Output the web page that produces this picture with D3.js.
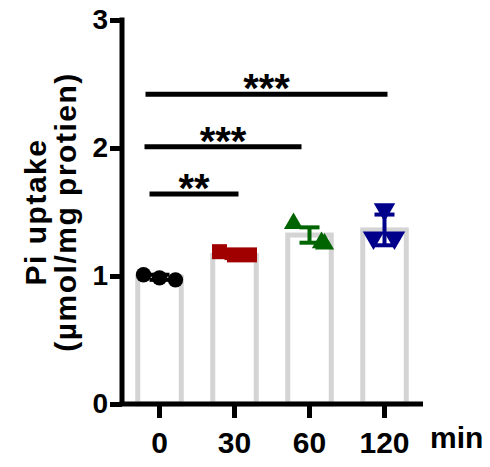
<!doctype html>
<html lang="en">
<head>
  <meta charset="utf-8">
  <title>Pi uptake</title>
  <style>
    body { margin: 0; background: #fff; }
    svg { display: block; font-family: "Liberation Sans", Arial, sans-serif; font-weight: bold; }
  </style>
</head>
<body>
  <div id="chart"></div>
  <script src="https://cdn.jsdelivr.net/npm/d3@7"></script>
  <script>
(function(){

  // data
  var categories = ["0", "30", "60", "120"];
  var means = [0.99, 1.16, 1.32, 1.36];
  var errs = [0.02, 0.02, 0.06, 0.12];
  var points0 = [1.01, 0.985, 0.97];
  var points30 = [1.19, 1.165, 1.165];
  var points60 = [1.41, 1.26, 1.25];
  var points120 = [1.52, 1.30, 1.30];
  var yTicks = [0, 1, 2, 3];
  var sigFrom = ["0", "0", "0"];
  var sigTo = ["120", "60", "30"];
  var sigY = [2.42, 2.01, 1.64];
  var sigText = ["***", "***", "**"];

  var width = 490, height = 467;
  var colors = ["#000000", "#a00000", "#006400", "#00008b"];
  var shapes = [d3.symbolCircle, d3.symbolSquare, d3.symbolTriangle, d3.symbolTriangle];
  var sizes = [185, 225, 160, 200];
  var jitter = [[-16, 0, 16], [-15, 0, 15], [-16, 12, 15], [0, -11, 10]];
  var sigPad = [[-14, 3], [-15, -8], [-10, 4]];
  var groups = [points0, points30, points60, points120];

  var svg = d3.select("#chart").append("svg")
      .attr("width", width)
      .attr("height", height);

  var x = d3.scaleBand().domain(categories).range([122, 422])
      .paddingInner(0.42).paddingOuter(0.21);
  var y = d3.scaleLinear().domain([0, 3]).range([404, 20]);

  // bars
  svg.append("g").selectAll("rect").data(categories).enter()
    .append("rect")
      .attr("x", function(d) { return x(d); })
      .attr("y", function(d, i) { return y(means[i]); })
      .attr("width", x.bandwidth())
      .attr("height", function(d, i) { return y(0) - y(means[i]); })
      .attr("fill", "#fff")
      .attr("stroke", "#d4d4d4")
      .attr("stroke-width", 5);

  // points
  groups.forEach(function(pts, g) {
    var cx = x(categories[g]) + x.bandwidth() / 2;
    svg.append("g").selectAll("path").data(pts).enter()
      .append("path")
        .attr("d", d3.symbol().type(shapes[g]).size(sizes[g]))
        .attr("transform", function(d, i) {
          return "translate(" + (cx + jitter[g][i]) + "," + y(d) + ")" + (g === 3 ? " rotate(180)" : "");
        })
        .attr("fill", colors[g]);
  });

  // error bars
  var eb = svg.append("g");
  categories.forEach(function(c, i) {
    var cx = x(c) + x.bandwidth() / 2;
    var lo = y(means[i] - errs[i]), hi = y(means[i] + errs[i]);
    eb.append("line").attr("x1", cx).attr("x2", cx).attr("y1", lo).attr("y2", hi)
      .attr("stroke", colors[i]).attr("stroke-width", 4);
    [lo, hi].forEach(function(v) {
      eb.append("line").attr("x1", cx - 10).attr("x2", cx + 10).attr("y1", v).attr("y2", v)
        .attr("stroke", colors[i]).attr("stroke-width", 4);
    });
  });

  // axes
  var yAxis = svg.append("g")
      .attr("transform", "translate(122,0)")
      .call(d3.axisLeft(y).tickValues(yTicks).tickFormat(d3.format("d")).tickSizeOuter(0).tickSize(12).tickPadding(2));
  yAxis.select(".domain").attr("stroke-width", 5).attr("d", "M0," + (y(3) - 2.5) + "V" + y(0));
  yAxis.selectAll(".tick line").attr("stroke-width", 5);
  yAxis.selectAll(".tick text").attr("font-size", 28).attr("font-family", null).attr("fill", "#000");

  var xAxis = svg.append("g")
      .attr("transform", "translate(0,404)")
      .call(d3.axisBottom(x).tickSizeOuter(0).tickSize(14).tickPadding(14));
  xAxis.select(".domain").attr("stroke-width", 5).attr("d", "M119.5,0H423");
  xAxis.selectAll(".tick line").attr("stroke-width", 5);
  xAxis.selectAll(".tick text").attr("font-size", 30).attr("font-family", null).attr("fill", "#000");

  svg.append("text")
      .attr("x", 430).attr("y", 448)
      .attr("font-size", 30)
      .text("min");

  // y label
  var yl = svg.append("text")
      .attr("transform", "translate(0," + ((y(0) + y(3)) / 2) + ") rotate(-90)")
      .attr("text-anchor", "middle")
      .attr("font-size", 30)
      .attr("letter-spacing", 1.5);
  yl.append("tspan").attr("x", 0).attr("y", 46).text("Pi uptake");
  yl.append("tspan").attr("x", 0).attr("y", 76).text("(\u00b5mol/mg protien)");

  // significance lines
  sigText.forEach(function(t, i) {
    var x1 = x(sigFrom[i]) + x.bandwidth() / 2 + sigPad[i][0];
    var x2 = x(sigTo[i]) + x.bandwidth() / 2 + sigPad[i][1];
    svg.append("line")
      .attr("x1", x1).attr("x2", x2)
      .attr("y1", y(sigY[i])).attr("y2", y(sigY[i]))
      .attr("stroke", "#000").attr("stroke-width", 5);
    svg.append("text")
      .attr("x", (x1 + x2) / 2).attr("y", y(sigY[i]) + 8)
      .attr("text-anchor", "middle")
      .attr("font-size", 40)
      .text(t);
  });

})();
  </script>
</body>
</html>
